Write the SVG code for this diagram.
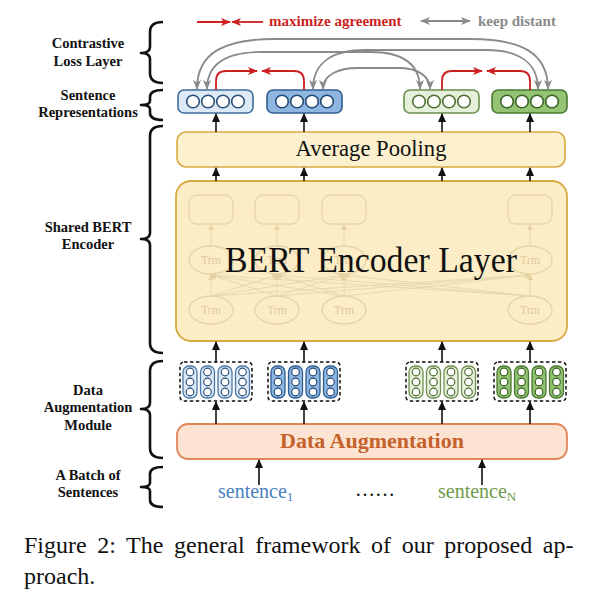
<svg xmlns="http://www.w3.org/2000/svg" width="596" height="592" viewBox="0 0 596 592">
<style>
.lbl{font-family:"Liberation Serif",serif;font-weight:bold;font-size:14.5px;fill:#111;text-anchor:middle}
.brace{fill:none;stroke:#111;stroke-width:2.6;stroke-linejoin:round}
.arr{stroke:#111;stroke-width:1.6;fill:none;marker-end:url(#mb)}
.gray{stroke:#8a8a8a;stroke-width:1.8;fill:none;marker-start:url(#mg);marker-end:url(#mg)}
.red{stroke:#cc1f1f;stroke-width:1.8;fill:none;marker-end:url(#mr)}
.faded{fill:none;stroke:#e6d5a6;stroke-width:1.3}
.fl{stroke:#e6d8b0;stroke-width:1;fill:none}
.trm{font-family:"Liberation Serif",serif;font-size:12px;fill:#dccb9c;text-anchor:middle}
.rc{fill:#fff;stroke-width:1.6}
.pc{fill:#fff;stroke-width:1.2}
.dash{fill:none;stroke:#111;stroke-width:1.5;stroke-dasharray:3.5,2.5}
</style>
<defs>
<marker id="mb" markerUnits="userSpaceOnUse" markerWidth="9" markerHeight="8" refX="8" refY="4" orient="auto"><path d="M0,0 L9,4 L0,8 z" fill="#111"/></marker>
<marker id="mg" markerUnits="userSpaceOnUse" markerWidth="10" markerHeight="8" refX="9" refY="4" orient="auto-start-reverse"><path d="M0,0 L10,4 L0,8 L2.5,4 z" fill="#8a8a8a"/></marker>
<marker id="mr" markerUnits="userSpaceOnUse" markerWidth="10" markerHeight="8" refX="9" refY="4" orient="auto"><path d="M0,0 L10,4 L0,8 L2.5,4 z" fill="#cc1f1f"/></marker>
<marker id="mf" markerUnits="userSpaceOnUse" markerWidth="6" markerHeight="6" refX="5" refY="3" orient="auto"><path d="M0,0 L6,3 L0,6 z" fill="#e3d3a3"/></marker>
</defs>
<rect width="596" height="592" fill="#fff"/>

<!-- Legend -->
<g id="legend">
<line x1="197" y1="22" x2="230" y2="22" class="red"/>
<line x1="263" y1="22" x2="232" y2="22" class="red"/>
<text x="269" y="26" font-family="Liberation Serif,serif" font-weight="bold" font-size="15" fill="#cc1f1f">maximize agreement</text>
<line x1="421" y1="21" x2="470" y2="21" class="gray"/>
<text x="478" y="26" font-family="Liberation Serif,serif" font-weight="bold" font-size="15" fill="#8a8a8a">keep distant</text>
</g>

<!-- Left labels and braces -->
<g id="labels">
<text class="lbl" x="88" y="48">Contrastive</text>
<text class="lbl" x="88" y="66">Loss Layer</text>
<text class="lbl" x="88" y="100">Sentence</text>
<text class="lbl" x="88" y="117">Representations</text>
<text class="lbl" x="88" y="232">Shared BERT</text>
<text class="lbl" x="88" y="249">Encoder</text>
<text class="lbl" x="88" y="395">Data</text>
<text class="lbl" x="88" y="412">Augmentation</text>
<text class="lbl" x="88" y="430">Module</text>
<text class="lbl" x="88" y="480">A Batch of</text>
<text class="lbl" x="88" y="497">Sentences</text>
<path class="brace" d="M163 22 Q150 22 150 32 L150 47 Q150 53 141 53 Q150 53 150 59 L150 73 Q150 83 163 83"/>
<path class="brace" d="M163 90 Q150 90 150 97 L150 101 Q150 105 141 105 Q150 105 150 109 L150 113 Q150 120 163 120"/>
<path class="brace" d="M163 126 Q150 126 150 136 L150 233 Q150 239 141 239 Q150 239 150 245 L150 343 Q150 353 163 353"/>
<path class="brace" d="M163 361 Q150 361 150 371 L150 403 Q150 409 141 409 Q150 409 150 415 L150 448 Q150 458 163 458"/>
<path class="brace" d="M163 467 Q150 467 150 474 L150 483 Q150 487 141 487 Q150 487 150 491 L150 500 Q150 507 163 507"/>
</g>

<!-- Sentence representations -->
<g id="rep1">
<rect x="178" y="90" width="75" height="23" rx="6" fill="#dce9f6" stroke="#3e6d9c" stroke-width="1.6"/>
<g class="rc" stroke="#2c4f78"><circle cx="193" cy="101.5" r="6.3"/><circle cx="208" cy="101.5" r="6.3"/><circle cx="223" cy="101.5" r="6.3"/><circle cx="238" cy="101.5" r="6.3"/></g>
</g>
<g id="rep2">
<rect x="267" y="90" width="75" height="23" rx="6" fill="#8fb6e0" stroke="#2f5e8e" stroke-width="1.6"/>
<g class="rc" stroke="#234a74"><circle cx="282" cy="101.5" r="6.3"/><circle cx="297" cy="101.5" r="6.3"/><circle cx="312" cy="101.5" r="6.3"/><circle cx="327" cy="101.5" r="6.3"/></g>
</g>
<g id="rep3">
<rect x="404" y="90" width="75" height="23" rx="6" fill="#e6efda" stroke="#6b8f4c" stroke-width="1.6"/>
<g class="rc" stroke="#4d6e33"><circle cx="419" cy="101.5" r="6.3"/><circle cx="434" cy="101.5" r="6.3"/><circle cx="449" cy="101.5" r="6.3"/><circle cx="464" cy="101.5" r="6.3"/></g>
</g>
<g id="rep4">
<rect x="492" y="90" width="75" height="23" rx="6" fill="#93c373" stroke="#4a7a30" stroke-width="1.6"/>
<g class="rc" stroke="#3b6324"><circle cx="507" cy="101.5" r="6.3"/><circle cx="522" cy="101.5" r="6.3"/><circle cx="537" cy="101.5" r="6.3"/><circle cx="552" cy="101.5" r="6.3"/></g>
</g>

<!-- Average pooling -->
<g id="pooling">
<rect x="177" y="132" width="388" height="35" rx="9" fill="#fdf0cf" stroke="#d8aa40" stroke-width="1.6"/>
<text x="371" y="156" font-family="Liberation Serif,serif" font-size="23" fill="#111" text-anchor="middle" textLength="151" lengthAdjust="spacingAndGlyphs">Average Pooling</text>
</g>

<!-- BERT encoder -->
<g id="encoder">
<rect x="176" y="181" width="391" height="160" rx="15" fill="#fcedc6" stroke="#d8aa40" stroke-width="1.8"/>
<g class="faded">
<rect x="189" y="195" width="44" height="29" rx="8"/>
<rect x="255" y="195" width="44" height="29" rx="8"/>
<rect x="322" y="195" width="44" height="29" rx="8"/>
<rect x="508" y="195" width="44" height="29" rx="8"/>
<ellipse cx="211" cy="260" rx="22" ry="14"/>
<ellipse cx="277" cy="260" rx="22" ry="14"/>
<ellipse cx="344" cy="260" rx="22" ry="14"/>
<ellipse cx="530" cy="260" rx="22" ry="14"/>
<ellipse cx="211" cy="310" rx="22" ry="14"/>
<ellipse cx="277" cy="310" rx="22" ry="14"/>
<ellipse cx="344" cy="310" rx="22" ry="14"/>
<ellipse cx="530" cy="310" rx="22" ry="14"/>
</g>
<g class="fl" marker-end="url(#mf)">
<line x1="211" y1="246" x2="211" y2="225"/>
<line x1="277" y1="246" x2="277" y2="225"/>
<line x1="344" y1="246" x2="344" y2="225"/>
<line x1="530" y1="246" x2="530" y2="225"/>
<line x1="211" y1="296" x2="211" y2="275"/>
<line x1="211" y1="296" x2="277" y2="275"/>
<line x1="211" y1="296" x2="344" y2="275"/>
<line x1="211" y1="296" x2="530" y2="275"/>
<line x1="277" y1="296" x2="211" y2="275"/>
<line x1="277" y1="296" x2="277" y2="275"/>
<line x1="277" y1="296" x2="344" y2="275"/>
<line x1="277" y1="296" x2="530" y2="275"/>
<line x1="344" y1="296" x2="211" y2="275"/>
<line x1="344" y1="296" x2="277" y2="275"/>
<line x1="344" y1="296" x2="344" y2="275"/>
<line x1="344" y1="296" x2="530" y2="275"/>
<line x1="530" y1="296" x2="211" y2="275"/>
<line x1="530" y1="296" x2="277" y2="275"/>
<line x1="530" y1="296" x2="344" y2="275"/>
<line x1="530" y1="296" x2="530" y2="275"/>
</g>
<text class="trm" x="211" y="264">Trm</text>
<text class="trm" x="277" y="264">Trm</text>
<text class="trm" x="344" y="264">Trm</text>
<text class="trm" x="530" y="264">Trm</text>
<text class="trm" x="211" y="314">Trm</text>
<text class="trm" x="277" y="314">Trm</text>
<text class="trm" x="344" y="314">Trm</text>
<text class="trm" x="530" y="314">Trm</text>
<text x="371" y="272" font-family="Liberation Serif,serif" font-size="35" fill="#111" text-anchor="middle" textLength="292" lengthAdjust="spacingAndGlyphs">BERT Encoder Layer</text>
</g>

<!-- Augmented views -->
<g id="aug1">
<rect class="dash" x="180" y="362" width="72" height="39" rx="4"/>
<g fill="#dce9f7" stroke="#4a78a8" stroke-width="1.3">
<rect x="183" y="366" width="14" height="32" rx="6"/><rect x="200.5" y="366" width="14" height="32" rx="6"/><rect x="218" y="366" width="14" height="32" rx="6"/><rect x="235.5" y="366" width="14" height="32" rx="6"/>
</g>
<g class="pc" stroke="#2c4f78">
<circle cx="190" cy="372" r="3.8"/><circle cx="190" cy="382" r="3.8"/><circle cx="190" cy="392" r="3.8"/>
<circle cx="207.5" cy="372" r="3.8"/><circle cx="207.5" cy="382" r="3.8"/><circle cx="207.5" cy="392" r="3.8"/>
<circle cx="225" cy="372" r="3.8"/><circle cx="225" cy="382" r="3.8"/><circle cx="225" cy="392" r="3.8"/>
<circle cx="242.5" cy="372" r="3.8"/><circle cx="242.5" cy="382" r="3.8"/><circle cx="242.5" cy="392" r="3.8"/>
</g>
</g>
<g id="aug2">
<rect class="dash" x="268" y="362" width="72" height="39" rx="4"/>
<g fill="#8db6e2" stroke="#2e5e90" stroke-width="1.3">
<rect x="271" y="366" width="14" height="32" rx="6"/><rect x="288.5" y="366" width="14" height="32" rx="6"/><rect x="306" y="366" width="14" height="32" rx="6"/><rect x="323.5" y="366" width="14" height="32" rx="6"/>
</g>
<g class="pc" stroke="#234a74">
<circle cx="278" cy="372" r="3.8"/><circle cx="278" cy="382" r="3.8"/><circle cx="278" cy="392" r="3.8"/>
<circle cx="295.5" cy="372" r="3.8"/><circle cx="295.5" cy="382" r="3.8"/><circle cx="295.5" cy="392" r="3.8"/>
<circle cx="313" cy="372" r="3.8"/><circle cx="313" cy="382" r="3.8"/><circle cx="313" cy="392" r="3.8"/>
<circle cx="330.5" cy="372" r="3.8"/><circle cx="330.5" cy="382" r="3.8"/><circle cx="330.5" cy="392" r="3.8"/>
</g>
</g>
<g id="aug3">
<rect class="dash" x="406" y="362" width="72" height="39" rx="4"/>
<g fill="#e8f0dc" stroke="#6f9150" stroke-width="1.3">
<rect x="409" y="366" width="14" height="32" rx="6"/><rect x="426.5" y="366" width="14" height="32" rx="6"/><rect x="444" y="366" width="14" height="32" rx="6"/><rect x="461.5" y="366" width="14" height="32" rx="6"/>
</g>
<g class="pc" stroke="#4d6e33">
<circle cx="416" cy="372" r="3.8"/><circle cx="416" cy="382" r="3.8"/><circle cx="416" cy="392" r="3.8"/>
<circle cx="433.5" cy="372" r="3.8"/><circle cx="433.5" cy="382" r="3.8"/><circle cx="433.5" cy="392" r="3.8"/>
<circle cx="451" cy="372" r="3.8"/><circle cx="451" cy="382" r="3.8"/><circle cx="451" cy="392" r="3.8"/>
<circle cx="468.5" cy="372" r="3.8"/><circle cx="468.5" cy="382" r="3.8"/><circle cx="468.5" cy="392" r="3.8"/>
</g>
</g>
<g id="aug4">
<rect class="dash" x="494" y="362" width="72" height="39" rx="4"/>
<g fill="#90c070" stroke="#4a7a30" stroke-width="1.3">
<rect x="497" y="366" width="14" height="32" rx="6"/><rect x="514.5" y="366" width="14" height="32" rx="6"/><rect x="532" y="366" width="14" height="32" rx="6"/><rect x="549.5" y="366" width="14" height="32" rx="6"/>
</g>
<g class="pc" stroke="#3b6324">
<circle cx="504" cy="372" r="3.8"/><circle cx="504" cy="382" r="3.8"/><circle cx="504" cy="392" r="3.8"/>
<circle cx="521.5" cy="372" r="3.8"/><circle cx="521.5" cy="382" r="3.8"/><circle cx="521.5" cy="392" r="3.8"/>
<circle cx="539" cy="372" r="3.8"/><circle cx="539" cy="382" r="3.8"/><circle cx="539" cy="392" r="3.8"/>
<circle cx="556.5" cy="372" r="3.8"/><circle cx="556.5" cy="382" r="3.8"/><circle cx="556.5" cy="392" r="3.8"/>
</g>
</g>

<!-- Data augmentation -->
<g id="data-aug">
<rect x="177" y="424" width="390" height="35" rx="11" fill="#fce3d2" stroke="#e0875a" stroke-width="1.8"/>
<text x="372" y="448" font-family="Liberation Serif,serif" font-weight="bold" font-size="22" fill="#c5612a" text-anchor="middle">Data Augmentation</text>
</g>

<!-- Sentences -->
<g id="sentences">
<text x="218" y="498" font-family="Liberation Serif,serif" font-size="20" fill="#4a7fbf">sentence<tspan font-size="13" dy="3">1</tspan></text>
<text x="355" y="496" font-family="Liberation Serif,serif" font-size="20" fill="#111">……</text>
<text x="438" y="498" font-family="Liberation Serif,serif" font-size="20" fill="#6f9a4c">sentence<tspan font-size="13" dy="3">N</tspan></text>
</g>

<!-- Connectors -->
<g id="connectors">
<line class="arr" x1="259" y1="485" x2="259" y2="460"/>
<line class="arr" x1="482" y1="485" x2="482" y2="460"/>
<line class="arr" x1="216" y1="424" x2="216" y2="402"/>
<line class="arr" x1="304" y1="424" x2="304" y2="402"/>
<line class="arr" x1="442" y1="424" x2="442" y2="402"/>
<line class="arr" x1="530" y1="424" x2="530" y2="402"/>
<line class="arr" x1="216" y1="362" x2="216" y2="342"/>
<line class="arr" x1="304" y1="362" x2="304" y2="342"/>
<line class="arr" x1="442" y1="362" x2="442" y2="342"/>
<line class="arr" x1="530" y1="362" x2="530" y2="342"/>
<line class="arr" x1="216" y1="181" x2="216" y2="168"/>
<line class="arr" x1="304" y1="181" x2="304" y2="168"/>
<line class="arr" x1="442" y1="181" x2="442" y2="168"/>
<line class="arr" x1="530" y1="181" x2="530" y2="168"/>
<line class="arr" x1="216" y1="132" x2="216" y2="114"/>
<line class="arr" x1="304" y1="132" x2="304" y2="114"/>
<line class="arr" x1="442" y1="132" x2="442" y2="114"/>
<line class="arr" x1="530" y1="132" x2="530" y2="114"/>
<path class="gray" d="M197 89 C197 52 225 39 275 39 L470 39 C520 39 548 52 548 89"/>
<path class="gray" d="M207 89 C207 62 228 52 262 52 L370 52 C402 52 420 64 420 89"/>
<path class="gray" d="M313 89 C313 62 333 50 366 50 L486 50 C518 50 538 62 538 89"/>
<path class="gray" d="M323 89 C323 75 338 68 358 68 L398 68 C418 68 430 76 430 89"/>
<path class="red" d="M216 90 L216 81 Q216 71 226 71 L257 71"/>
<path class="red" d="M304 90 L304 81 Q304 71 294 71 L262 71"/>
<path class="red" d="M442 90 L442 81 Q442 71 452 71 L482 71"/>
<path class="red" d="M530 90 L530 81 Q530 71 520 71 L487 71"/>
</g>

<!-- Caption -->
<g id="caption" font-family="Liberation Serif,serif" font-size="24" fill="#111">
<text x="24" y="553" word-spacing="4.6">Figure 2: The general framework of our proposed ap-</text>
<text x="24" y="584">proach.</text>
</g>
</svg>
